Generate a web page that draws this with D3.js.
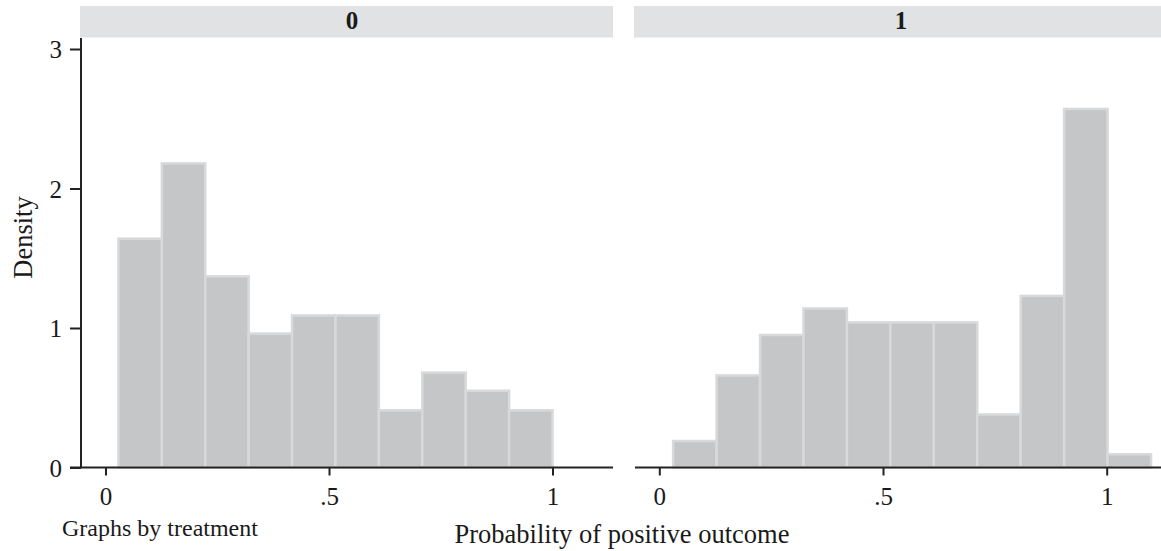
<!DOCTYPE html>
<meta charset="utf-8">
<script src="https://d3js.org/d3.v7.min.js"></script>
<style>
  body { margin: 0; background: #fff; }
  text { font-family: "Liberation Serif", "Times New Roman", serif; fill: #1a1a1a; }
</style>
<div id="chart"></div>
<script>

// panels (treatment groups)
var panels = ["0", "1"];

// histogram densities
var density0 = [1.64, 2.18, 1.37, 0.96, 1.09, 1.09, 0.41, 0.68, 0.55, 0.41];
var density1 = [0.19, 0.66, 0.95, 1.14, 1.04, 1.04, 1.04, 0.38, 1.23, 2.57, 0.095];

// first bin edge of each panel and shared bin width
var binStart = [0.029, 0.031];
var binWidth = 0.0971;

var xTicks = [0, 0.5, 1];
var yTicks = [0, 1, 2, 3];

var width = 1161, height = 551;

var svg = d3.select("#chart")
  .append("svg")
    .attr("width", width)
    .attr("height", height);

var y = d3.scaleLinear()
  .domain([0, 3])
  .range([467.5, 49]);

// each panel: plot region, and where 0 and 1 fall
var layout = [
  {left: 81, right: 613, x0: 105.5, x1: 552.5, label: 352},
  {left: 635, right: 1167, x0: 659.3, x1: 1106.7, label: 901}
];

var fmt = function(d) { return d === 0.5 ? ".5" : d3.format("d")(d); };

[density0, density1].forEach(function(vals, p) {
  var L = layout[p];
  var x = d3.scaleLinear().domain([0, 1]).range([L.x0, L.x1]);

  // header strip
  svg.append("rect")
    .attr("x", L.left - 1)
    .attr("y", 6)
    .attr("width", L.right - L.left + 1)
    .attr("height", 31.5)
    .attr("fill", "#e1e2e4");
  svg.append("text")
    .attr("x", L.label)
    .attr("y", 29)
    .attr("text-anchor", "middle")
    .style("font-size", "25px")
    .style("font-weight", "bold")
    .text(panels[p]);

  // bars
  var bins = vals.map(function(v, i) {
    return {x0: binStart[p] + i * binWidth, x1: binStart[p] + (i + 1) * binWidth, v: v};
  });
  svg.append("g")
    .selectAll("rect")
    .data(bins)
    .enter()
    .append("rect")
      .attr("x", function(d) { return x(d.x0); })
      .attr("y", function(d) { return y(d.v); })
      .attr("width", function(d) { return x(d.x1) - x(d.x0); })
      .attr("height", function(d) { return y(0) - y(d.v); })
      .attr("fill", "#c5c6c8")
      .attr("stroke", "#d8d9da")
      .attr("stroke-width", 2.5);

  // x axis
  var gx = svg.append("g")
    .attr("transform", "translate(0," + y(0) + ")")
    .call(d3.axisBottom(x).tickValues(xTicks).tickFormat(fmt).tickSize(8).tickSizeOuter(0).tickPadding(12));
  gx.select(".domain").remove();
  gx.selectAll(".tick line").attr("stroke", "#222").attr("stroke-width", 2);
  gx.selectAll(".tick text")
    .attr("dy", null)
    .attr("y", 37)
    .style("font-size", "25px")
    .style("font-family", "Liberation Serif");
  svg.append("line")
    .attr("x1", p === 0 ? 70 : L.left)
    .attr("x2", L.right)
    .attr("y1", y(0))
    .attr("y2", y(0))
    .attr("stroke", "#222")
    .attr("stroke-width", 2);
});

// y axis (left panel only)
var gy = svg.append("g")
  .attr("transform", "translate(81,0)")
  .call(d3.axisLeft(y).tickValues(yTicks).tickFormat(d3.format("d")).tickSize(11).tickPadding(8));
gy.select(".domain").remove();
gy.selectAll(".tick line").attr("stroke", "#222").attr("stroke-width", 2);
gy.selectAll(".tick text")
  .attr("dy", "0.34em")
  .style("font-size", "25px")
  .style("font-family", "Liberation Serif");
svg.append("line")
  .attr("x1", 81).attr("x2", 81)
  .attr("y1", 38).attr("y2", y(0))
  .attr("stroke", "#222")
  .attr("stroke-width", 2);

// y axis title
svg.append("text")
  .attr("transform", "translate(32,237.5) rotate(-90)")
  .attr("text-anchor", "middle")
  .style("font-size", "26.5px")
  .text("Density");

// x axis title
svg.append("text")
  .attr("x", 622)
  .attr("y", 543)
  .attr("text-anchor", "middle")
  .style("font-size", "26.5px")
  .text("Probability of positive outcome");

// note
svg.append("text")
  .attr("x", 62)
  .attr("y", 536)
  .style("font-size", "24px")
  .text("Graphs by treatment");

</script>
